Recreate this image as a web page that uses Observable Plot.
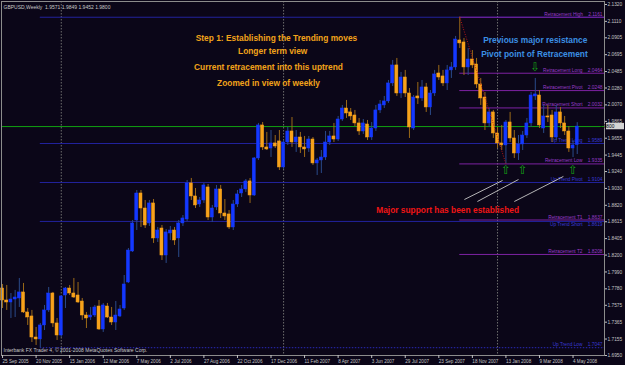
<!DOCTYPE html>
<html><head><meta charset="utf-8">
<script src="https://cdn.jsdelivr.net/npm/d3@7"></script>
<script src="https://cdn.jsdelivr.net/npm/@observablehq/plot@0.6"></script>
<style>
html,body{margin:0;padding:0;background:#0b0618;}
#chart{width:625px;height:365px;overflow:hidden;}
</style></head><body><div id="chart"></div>
<script>
// Weekly GBPUSD candles, first bar = week of 25 Sep 2005
const opens = [1.7784,1.7635,1.7610,1.7647,1.7660,1.7735,1.7486,1.7436,1.7174,1.7150,1.7324,1.7511,1.7722,1.7349,1.7199,1.7697,1.7784,1.7722,1.7697,1.7622,1.7448,1.7423,1.7448,1.7560,1.7274,1.7560,1.7423,1.7361,1.7436,1.7535,1.7859,1.8245,1.8631,1.8967,1.8780,1.8594,1.8843,1.8407,1.8531,1.8195,1.8469,1.8506,1.8407,1.8594,1.8643,1.9092,1.8930,1.8830,1.8880,1.9042,1.8668,1.8793,1.9017,1.8718,1.8706,1.8544,1.8830,1.8967,1.9017,1.9117,1.8942,1.9403,1.9814,1.9540,1.9527,1.9590,1.9615,1.9291,1.9602,1.9739,1.9602,1.9664,1.9540,1.9527,1.9639,1.9341,1.9378,1.9415,1.9602,1.9677,1.9639,1.9888,2.0025,1.9976,1.9938,1.9839,1.9739,1.9826,1.9664,1.9776,2.0001,2.0063,2.0113,2.0337,2.0561,2.0212,2.0411,2.0212,1.9776,2.0175,2.0150,2.0287,2.0038,2.0212,2.0461,2.0424,2.0337,2.0499,2.0536,2.0872,2.0847,2.0536,2.0635,2.0573,2.0324,2.0162,1.9839,1.9976,1.9714,1.9590,1.9565,1.9851,1.9652,1.9465,1.9577,1.9689,1.9839,2.0175,2.0187,1.9776,1.9926,1.9938,1.9664,1.9976,1.9839,1.9739,1.9527,1.9571];
const highs = [1.7834,1.7822,1.7722,1.7760,1.7909,1.7847,1.7535,1.7511,1.7299,1.7349,1.7573,1.7797,1.7735,1.7411,1.7697,1.7797,1.7822,1.7909,1.7859,1.7660,1.7486,1.7548,1.7573,1.7635,1.7598,1.7598,1.7548,1.7622,1.7573,1.7946,1.8282,1.8631,1.9004,1.9004,1.8880,1.8880,1.8892,1.8544,1.8569,1.8519,1.8556,1.8544,1.8631,1.8693,1.9129,1.9154,1.9029,1.8917,1.9092,1.9079,1.8818,1.9067,1.9067,1.8892,1.8755,1.8880,1.9004,1.9067,1.9141,1.9154,1.9415,1.9839,1.9851,1.9727,1.9751,1.9689,1.9751,1.9627,1.9789,1.9913,1.9751,1.9727,1.9677,1.9677,1.9664,1.9403,1.9502,1.9739,1.9739,1.9839,1.9926,2.0063,2.0125,2.0025,2.0001,1.9901,1.9888,1.9876,1.9851,2.0063,2.0125,2.0175,2.0374,2.0623,2.0648,2.0474,2.0499,2.0274,2.0187,2.0349,2.0374,2.0337,2.0249,2.0499,2.0561,2.0499,2.0561,2.0598,2.0922,2.1161,2.0897,2.0772,2.0747,2.0648,2.0399,2.0225,2.0025,2.0001,1.9789,1.9814,1.9876,1.9976,1.9751,1.9689,1.9739,1.9901,2.0225,2.0399,2.0249,2.0063,2.0063,2.0001,2.0063,2.0038,1.9926,1.9801,1.9627,1.9849];
const lows = [1.7535,1.7511,1.7411,1.7423,1.7548,1.7473,1.7324,1.7112,1.7075,1.7047,1.7261,1.7486,1.7299,1.7137,1.7174,1.7535,1.7697,1.7660,1.7598,1.7386,1.7286,1.7386,1.7423,1.7261,1.7237,1.7411,1.7324,1.7261,1.7423,1.7511,1.7847,1.8233,1.8506,1.8544,1.8531,1.8556,1.8345,1.8357,1.8133,1.8096,1.8382,1.8320,1.8170,1.8556,1.8619,1.8880,1.8780,1.8793,1.8843,1.8631,1.8606,1.8755,1.8656,1.8631,1.8519,1.8506,1.8793,1.8917,1.8980,1.8843,1.8930,1.9378,1.9502,1.9502,1.9415,1.9527,1.9253,1.9266,1.9565,1.9540,1.9478,1.9465,1.9415,1.9478,1.9316,1.9191,1.9216,1.9378,1.9565,1.9602,1.9615,1.9864,1.9901,1.9876,1.9801,1.9689,1.9702,1.9627,1.9627,1.9739,1.9963,2.0025,2.0088,2.0299,2.0175,2.0150,2.0162,1.9652,1.9751,2.0075,2.0113,1.9976,1.9938,2.0175,2.0374,2.0299,2.0249,2.0399,2.0499,2.0772,2.0436,2.0436,2.0523,2.0274,2.0063,1.9751,1.9789,1.9652,1.9527,1.9502,1.9335,1.9602,1.9403,1.9378,1.9502,1.9652,1.9789,2.0125,1.9776,1.9714,1.9851,1.9602,1.9627,1.9776,1.9689,1.9478,1.9415,1.9452];
const closes = [1.7635,1.7610,1.7647,1.7672,1.7735,1.7486,1.7423,1.7174,1.7150,1.7324,1.7511,1.7722,1.7349,1.7199,1.7685,1.7784,1.7722,1.7672,1.7610,1.7448,1.7411,1.7448,1.7548,1.7274,1.7573,1.7423,1.7361,1.7448,1.7523,1.7834,1.8257,1.8594,1.8967,1.8780,1.8569,1.8843,1.8407,1.8506,1.8195,1.8482,1.8506,1.8382,1.8594,1.8656,1.9092,1.8930,1.8818,1.8880,1.9067,1.8668,1.8780,1.9017,1.8718,1.8681,1.8544,1.8830,1.8955,1.9017,1.9117,1.8942,1.9403,1.9814,1.9540,1.9515,1.9590,1.9552,1.9291,1.9602,1.9739,1.9602,1.9664,1.9540,1.9515,1.9639,1.9341,1.9378,1.9415,1.9602,1.9677,1.9639,1.9888,2.0025,1.9963,1.9926,1.9839,1.9739,1.9839,1.9664,1.9776,2.0001,2.0075,2.0113,2.0337,2.0561,2.0212,2.0411,2.0212,1.9789,2.0162,2.0150,2.0287,2.0038,2.0212,2.0449,2.0411,2.0337,2.0499,2.0536,2.0884,2.0835,2.0536,2.0635,2.0561,2.0324,2.0150,1.9839,1.9976,1.9714,1.9590,1.9565,1.9851,1.9652,1.9465,1.9577,1.9689,1.9839,2.0187,2.0200,1.9814,1.9926,1.9913,1.9664,1.9976,1.9839,1.9739,1.9527,1.9565,1.9800];

const dateLabels = ["25 Sep 2005","20 Nov 2005","15 Jan 2006","12 Mar 2006","7 May 2006","2 Jul 2006","27 Aug 2006","22 Oct 2006","17 Dec 2006","11 Feb 2007","8 Apr 2007","3 Jun 2007","29 Jul 2007","23 Sep 2007","18 Nov 2007","13 Jan 2008","9 Mar 2008","4 May 2008"];
const dateLabelStep = 8;
const yTicks = [2.1320,2.1110,2.0905,2.0695,2.0485,2.0280,2.0070,1.9865,1.9655,1.9445,1.9240,1.9030,1.8820,1.8615,1.8405,1.8200,1.7990,1.7780,1.7575,1.7365,1.7155,1.6950];
const bidPrice = 1.9800;
const separatorBars = [14, 67, 118];

const upTrendNames = ["Up Trend High","Up Trend Long","Up Trend Pivot","Up Trend Short","Up Trend Low"];
const upTrendValues = [2.1161,1.9589,1.9104,1.8619,1.7047];
const upTrendStart = 9;
const retraceNames = ["Retracement High","Retracement Long","Retracement Pivot","Retracement Short","Retracement Low","Retracement T1","Retracement T2"];
const retraceValues = [2.1161,2.0464,2.0248,2.0032,1.9335,1.8637,1.8208];
const retraceStart = 109;
const retraceEnd = 120;

const noteTexts = ["Step 1: Establishing the Trending moves","Longer term view","Current retracement into this uptrend","Zoomed in view of weekly","Previous major resistance","Pivot point of Retracement","Major support has been established"];
const noteBars = [65.3,64.4,63.4,63.4,127.0,126.8,106.1];
const notePrices = [2.0896,2.0735,2.0535,2.0336,2.0872,2.0697,1.8755];
const noteColors = ["#f2a31a","#f2a31a","#f2a31a","#f2a31a","#3b8fe3","#3b8fe3","#f01515"];

const arrowBars = [120,124,136,127];
const arrowPrices = [1.9255,1.9255,1.9255,2.0545];
const arrowDirs = ["up","up","up","down"];

const pointerFromBars = [110.1,113.2,122.0];
const pointerFromPrices = [1.8892,1.8867,1.8867];
const pointerToBars = [119.2,123.0,133.7];
const pointerToPrices = [1.9129,1.9141,1.9179];

const symbolName = "GBPUSD,Weekly";
const copyright = "Interbank FX Trader 4, © 2001-2008 MetaQuotes Software Corp.";

// ---- build tables ----
const bars = opens.map((o, i) => ({i, o, h: highs[i], l: lows[i], c: closes[i]}));
const upBars = bars.filter(d => d.c >= d.o);
const downBars = bars.filter(d => d.c < d.o);
const xMax = 143.5;
const upLevels = upTrendNames.map((n, k) => ({name: n, value: upTrendValues[k], start: upTrendStart, dotted: n === "Up Trend Low"}));
const retLevels = retraceNames.map((n, k) => ({name: n, value: retraceValues[k], start: retraceStart}));
const upLabels = upLevels.filter(d => d.name !== "Up Trend High").map(d => ({...d, label: `${d.name}    ${d.value.toFixed(4)}`, below: d.name === "Up Trend Short"}));
const retLabels = retLevels.map(d => ({...d, label: `${d.name}    ${d.value.toFixed(4)}`}));
const notes = noteTexts.map((t, k) => ({t, x: noteBars[k], y: notePrices[k], color: noteColors[k]}));
const arrows = arrowBars.map((b, k) => ({x: b, y: arrowPrices[k], dir: arrowDirs[k]}));
const pointers = pointerFromBars.map((b, k) => ({x1: b, y1: pointerFromPrices[k], x2: pointerToBars[k], y2: pointerToPrices[k]}));
const zig = [{x1: retraceStart, y1: highs[retraceStart], x2: retraceEnd, y2: lows[retraceEnd]}];
const last = bars[bars.length - 1];
const header = `${symbolName}  ${last.o.toFixed(4)} ${last.h.toFixed(4)} ${last.l.toFixed(4)} ${last.c.toFixed(4)}`;

const bullBody = "#1438ff", bullWick = "#2a4a8a";
const bearBody = "#f7a21b", bearWick = "#9c6a18";
const blueLine = "#22229e", purpleLine = "#7e22a3";
const axisColor = "#c4c4c4";
const font = "Liberation Sans, Arial, sans-serif";

const chart = Plot.plot({
  width: 625, height: 365,
  marginTop: 1, marginBottom: 10, marginLeft: 1, marginRight: 21,
  style: {background: "#0b0618", color: axisColor, fontFamily: font, overflow: "visible"},
  x: {type: "linear", domain: [-0.25, xMax]},
  y: {domain: [1.6950, 2.1357]},
  marks: [
    Plot.ruleX(separatorBars, {x: d => d, stroke: "#6e6e6e", strokeDasharray: "1.5,1.5"}),
    Plot.ruleY(upLevels.filter(d => !d.dotted), {y: "value", x1: "start", x2: xMax, stroke: blueLine}),
    Plot.ruleY(upLevels.filter(d => d.dotted), {y: "value", x1: "start", x2: xMax, stroke: "#2a2ab8", strokeDasharray: "1.5,1.5"}),
    Plot.ruleY(retLevels, {y: "value", x1: "start", x2: xMax, stroke: purpleLine}),
    Plot.ruleY([bidPrice], {stroke: "#12a012"}),
    Plot.text(upLabels.filter(d => !d.below), {x: xMax, y: "value", text: "label", textAnchor: "end", dx: -2, dy: -3, fontSize: 4.8, fill: "#3a3ad6"}),
    Plot.text(upLabels.filter(d => d.below), {x: xMax, y: "value", text: "label", textAnchor: "end", dx: -2, dy: 3.5, fontSize: 4.8, fill: "#3a3ad6"}),
    Plot.text(retLabels, {x: xMax, y: "value", text: "label", textAnchor: "end", dx: -2, dy: -3, fontSize: 4.8, fill: "#9a3cc8"}),
    Plot.ruleX(upBars, {x: "i", y1: "l", y2: "h", stroke: bullWick}),
    Plot.ruleX(downBars, {x: "i", y1: "l", y2: "h", stroke: bearWick}),
    Plot.rect(upBars, {x1: d => d.i - 0.36, x2: d => d.i + 0.36, y1: "o", y2: "c", fill: bullBody, stroke: bullBody, strokeWidth: 0.5}),
    Plot.rect(downBars, {x1: d => d.i - 0.36, x2: d => d.i + 0.36, y1: "o", y2: "c", fill: bearBody, stroke: bearBody, strokeWidth: 0.5}),
    Plot.link(zig, {x1: "x1", y1: "y1", x2: "x2", y2: "y2", stroke: "#b81818", strokeDasharray: "1,1.5"}),
    Plot.link(pointers, {x1: "x1", y1: "y1", x2: "x2", y2: "y2", stroke: "#c8c8c8", strokeWidth: 0.9}),
    Plot.text(arrows, {x: "x", y: "y", text: d => d.dir === "up" ? "⇧" : "⇩", fill: "#14a014", fontSize: 12, fontFamily: "DejaVu Sans"}),
    Plot.text(notes, {x: "x", y: "y", text: "t", fill: "color", fontSize: 8.4, fontWeight: "bold", fontFamily: font}),
    Plot.text([header], {text: d => d, frameAnchor: "top-left", dx: 2, dy: 4, fontSize: 5, fill: "#c8c8c8", textAnchor: "start"}),
    Plot.text([copyright], {text: d => d, frameAnchor: "bottom-left", dx: 2, dy: -4, fontSize: 5, fill: "#c8c8c8", textAnchor: "start"}),
    Plot.frame({stroke: "#8c8c8c"}),
    Plot.axisY(yTicks, {anchor: "right", tickSize: 2, tickPadding: 1, fontSize: 4.8, tickFormat: d => d.toFixed(4), color: axisColor}),
    Plot.axisX(dateLabels.map((d, k) => k * dateLabelStep), {anchor: "bottom", tickSize: 3, tickPadding: 1, fontSize: 4.6, textAnchor: "start", tickFormat: d => dateLabels[d / dateLabelStep], color: axisColor})
  ]
});

// highlighted bid price box on the right axis
const svg = d3.select(chart);
const yb = chart.scale("y").apply(bidPrice);
const xr = chart.scale("x").apply(xMax);
const g = svg.append("g");
g.append("rect").attr("x", xr + 2).attr("y", yb - 3.2).attr("width", 18).attr("height", 6.4).attr("fill", "#d4d4d4");
g.append("text").attr("x", xr + 3).attr("y", yb).attr("dy", "0.35em").attr("font-size", 4.8).attr("font-family", font).attr("fill", "#000").text(bidPrice.toFixed(4));

document.getElementById("chart").appendChild(chart);
</script>
</body></html>
